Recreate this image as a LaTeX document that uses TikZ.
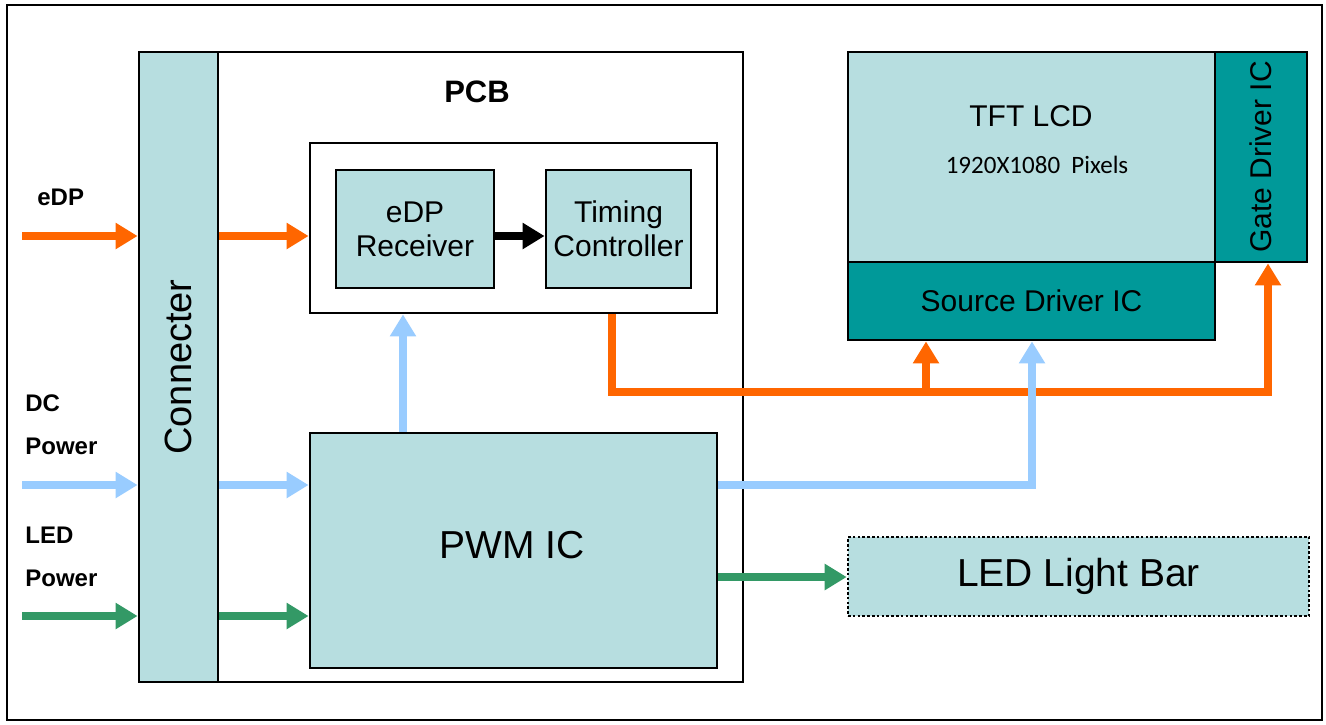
\documentclass[tikz,border=0pt]{standalone}
\usepackage{fontspec}
\setmainfont{Liberation Sans}
\newfontfamily\pixfont{Carlito}
\usetikzlibrary{arrows.meta}

\definecolor{panel}{RGB}{183,222,224}
\definecolor{drvteal}{RGB}{0,153,153}
\definecolor{sigorange}{RGB}{255,102,0}
\definecolor{pwrblue}{RGB}{153,204,255}
\definecolor{ledgreen}{RGB}{51,153,102}

\begin{document}
\begin{tikzpicture}[
    x=0.5pt,
    y=-0.5pt,
    blk/.style={draw=black, line width=1.4pt, fill=panel, inner sep=0pt,
      align=center, font=\fontsize{15}{17}\selectfont},
    drv/.style={blk, fill=drvteal},
    frm/.style={draw=black, line width=1.4pt, fill=white, inner sep=0pt},
    sig/.style={line width=4pt, -{Triangle[width=12.5pt,length=11pt]}},
    inlabel/.style={anchor=west, inner sep=0pt, font=\fontsize{12}{14}\selectfont\bfseries}
  ]
    \useasboundingbox (0,0) rectangle (1326,724);
    \draw[line width=1.4pt] (7,5) rectangle (1322,720);

    % PCB con conector (rotado: north = izquierda, south = derecha)
    \node[frm, minimum width=302pt, minimum height=315pt] (pcb) at (441,367) {};
    \node[blk, rotate=90, minimum width=315pt, minimum height=39.5pt,
      font=\fontsize{19}{22}\selectfont] (conn) at (178.5,367) {Connecter};
    \node[font=\fontsize{15.5}{18}\selectfont\bfseries] (pcbtitle) at (477,92) {PCB};

    % Bloque TCON
    \node[frm, minimum width=203.5pt, minimum height=85pt] (tconbox) at (513.5,228) {};
    \node[blk, minimum width=79pt, minimum height=59pt] (rx) at (415,229) {eDP\\Receiver};
    \node[blk, minimum width=72.5pt, minimum height=59pt] (tcon) at (618.5,229) {Timing\\Controller};
    \node[blk, minimum width=203.5pt, minimum height=117.5pt,
      font=\fontsize{19.5}{22}\selectfont] (pwm) at (513.5,550.5) {};
    \node[font=\fontsize{19.5}{22}\selectfont] (pwmtext) at (512,545) {PWM IC};

    % Panel
    \node[blk, minimum width=183.5pt, minimum height=105pt] (lcd) at (1031.5,157) {};
    \node[font=\fontsize{15}{17}\selectfont] (lcdtitle) at (1031,116) {TFT LCD};
    \node[font=\fontsize{12.5}{15}\pixfont] (lcdres) at (1037,165) {1920X1080\ \ Pixels};
    \node[drv, rotate=90, minimum width=105pt, minimum height=46pt] (gate) at (1261,157) {Gate Driver IC};
    \node[drv, minimum width=183.5pt, minimum height=39pt] (src) at (1031.5,301) {Source Driver IC};
    \node[blk, line width=1.3pt, dash pattern=on 1.3pt off 1.1pt, minimum width=230.5pt,
      minimum height=39.5pt, font=\fontsize{19.5}{22}\selectfont] (ledbar) at (1078.5,576.5) {LED Light Bar};

    % Entradas
    \node[inlabel] (edplabel) at (37,197) {eDP};
    \node[inlabel] (dclabel) at (25,403) {DC};
    \node[inlabel] (dcpower) at (25,446) {Power};
    \node[inlabel] (ledlabel) at (25,535) {LED};
    \node[inlabel] (ledpower) at (25,578) {Power};

    \coordinate (edpin) at (22,236);
    \coordinate (dcin) at (22,485);
    \coordinate (ledin) at (22,616);
    \coordinate (bup) at (403,485);
    \coordinate (obus) at (612,392);
    \coordinate (stap) at (926,392);
    \coordinate (gtap) at (1268,392);
    \coordinate (btap) at (1032,485);
    \coordinate (gline) at (718,577);

    \draw[sig, sigorange] (edpin) -- (edpin -| conn.north);
    \draw[sig, sigorange] (edpin -| conn.south) -- (edpin -| tconbox.west);
    \draw[sig, pwrblue] (dcin) -- (dcin -| conn.north);
    \draw[sig, pwrblue] (dcin -| conn.south) -- (dcin -| pwm.west);
    \draw[sig, ledgreen] (ledin) -- (ledin -| conn.north);
    \draw[sig, ledgreen] (ledin -| conn.south) -- (ledin -| pwm.west);

    \draw[sig, black] (edpin -| rx.east) -- (edpin -| tcon.west);
    \draw[sig, pwrblue] (bup |- pwm.north) -- (bup |- tconbox.south);

    % Salidas
    \draw[sig, sigorange] (obus |- tconbox.south) -- (obus) -- (gtap) -- (gtap |- gate.west);
    \draw[sig, sigorange] (stap) -- (stap |- src.south);
    \draw[sig, pwrblue] (btap -| pwm.east) -- (btap) -- (btap |- src.south);
    \draw[sig, ledgreen] (gline -| pwm.east) -- (gline -| ledbar.west);
  \end{tikzpicture}
\end{document}
